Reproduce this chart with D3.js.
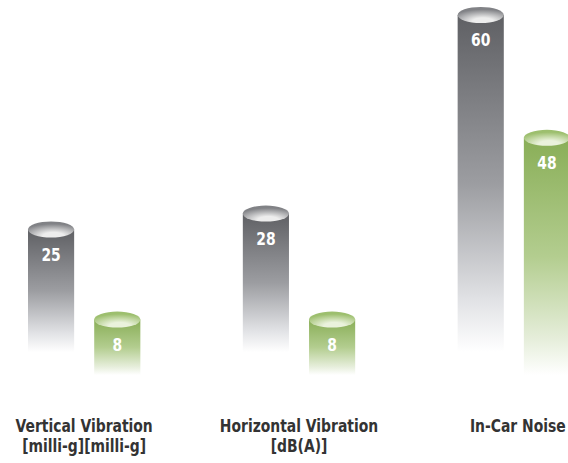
<!DOCTYPE html>
<html>
<head>
<meta charset="utf-8">
<script src="https://cdn.jsdelivr.net/npm/d3@7"></script>
<style>
  body { margin: 0; background: #fff; }
</style>
</head>
<body>
<div class="canvas"></div>
<script>
// data
const categories = ['Vertical Vibration', 'Horizontal Vibration', 'In-Car Noise'];
const units = ['[milli-g][milli-g]', '[dB(A)]', ''];
const series = ['before', 'after'];
const beforeValues = [25, 28, 60];
const afterValues = [8, 8, 48];

const width = 568, height = 463;
const font = '"DejaVu Sans Condensed", "Liberation Sans Narrow", sans-serif';

const svg = d3.select('.canvas')
  .append('svg')
  .attr('width', width)
  .attr('height', height);

// group + bar positions
const x0 = d3.scaleBand()
  .domain(categories)
  .range([28, 570])
  .paddingInner(0.477);

const x1 = d3.scaleBand()
  .domain(series)
  .range([0, x0.bandwidth()])
  .paddingInner(0.303);

// vibration and noise are different units, so each gets its own scale
const yVib = d3.scaleLinear().domain([0, 30]).range([362, 203]);
const yNoise = d3.scaleLinear().domain([30, 60]).range([322, 15]);
const yFor = i => (i === 2 ? yNoise : yVib);

// baseline where the body has faded out
const base = { before: 352, after: 375 };

const colors = {
  before: { top: '#5f6064', mid: '#9c9da1', low: '#e2e3e6', capOut: '#818286', capIn: '#ededed' },
  after: { top: '#89ae57', mid: '#b3cd8f', low: '#e6eedb', capOut: '#9dbf6e', capIn: '#eaf2dc' }
};

const defs = svg.append('defs');

series.forEach(s => {
  const c = colors[s];
  const body = defs.append('linearGradient')
    .attr('id', 'body-' + s)
    .attr('x1', 0).attr('y1', 0).attr('x2', 0).attr('y2', 1);
  body.append('stop').attr('offset', 0).attr('stop-color', c.top);
  body.append('stop').attr('offset', 0.5).attr('stop-color', c.mid);
  body.append('stop').attr('offset', 0.85).attr('stop-color', c.low);
  body.append('stop').attr('offset', 1).attr('stop-color', '#fff');

  const cap = defs.append('radialGradient')
    .attr('id', 'cap-' + s)
    .attr('cx', 0.55).attr('cy', 0.9).attr('r', 0.75);
  cap.append('stop').attr('offset', 0).attr('stop-color', c.capIn);
  cap.append('stop').attr('offset', 0.3).attr('stop-color', c.capIn);
  cap.append('stop').attr('offset', 1).attr('stop-color', c.capOut);
});

const bars = [];
categories.forEach((cat, i) => {
  bars.push({ cat, i, s: 'before', v: beforeValues[i] });
  bars.push({ cat, i, s: 'after', v: afterValues[i] });
});

const rx = x1.bandwidth() / 2;
const ry = 8;

const g = svg.selectAll('g.bar')
  .data(bars)
  .enter()
  .append('g')
  .attr('class', 'bar')
  .attr('transform', d => `translate(${x0(d.cat) + x1(d.s)}, 0)`);

g.append('rect')
  .attr('x', 0)
  .attr('y', d => yFor(d.i)(d.v))
  .attr('width', x1.bandwidth())
  .attr('height', d => base[d.s] - yFor(d.i)(d.v))
  .attr('fill', d => `url(#body-${d.s})`);

g.append('ellipse')
  .attr('cx', rx)
  .attr('cy', d => yFor(d.i)(d.v))
  .attr('rx', rx)
  .attr('ry', ry)
  .attr('fill', d => `url(#cap-${d.s})`);

// value labels, squeezed a bit to look condensed
g.append('text')
  .attr('transform', d => `translate(${rx}, ${yFor(d.i)(d.v) + 31}) scale(0.86, 1)`)
  .attr('text-anchor', 'middle')
  .attr('fill', '#fff')
  .attr('font-family', font)
  .attr('font-weight', 'bold')
  .attr('font-size', 18)
  .text(d => d.v);

// category labels
const labelX = (d, i) => x0(d) + x0.bandwidth() / 2 + (i === 2 ? 4 : 0);

const labels = svg.selectAll('text.cat')
  .data(categories)
  .enter()
  .append('text')
  .attr('class', 'cat')
  .attr('transform', (d, i) => `translate(${labelX(d, i)}, 432) scale(0.86, 1)`)
  .attr('text-anchor', 'middle')
  .attr('fill', '#333')
  .attr('font-family', font)
  .attr('font-weight', 'bold')
  .attr('font-size', 18);

labels.append('tspan').text(d => d);
labels.append('tspan')
  .attr('x', 0)
  .attr('dy', 20)
  .text((d, i) => units[i]);
</script>
</body>
</html>
